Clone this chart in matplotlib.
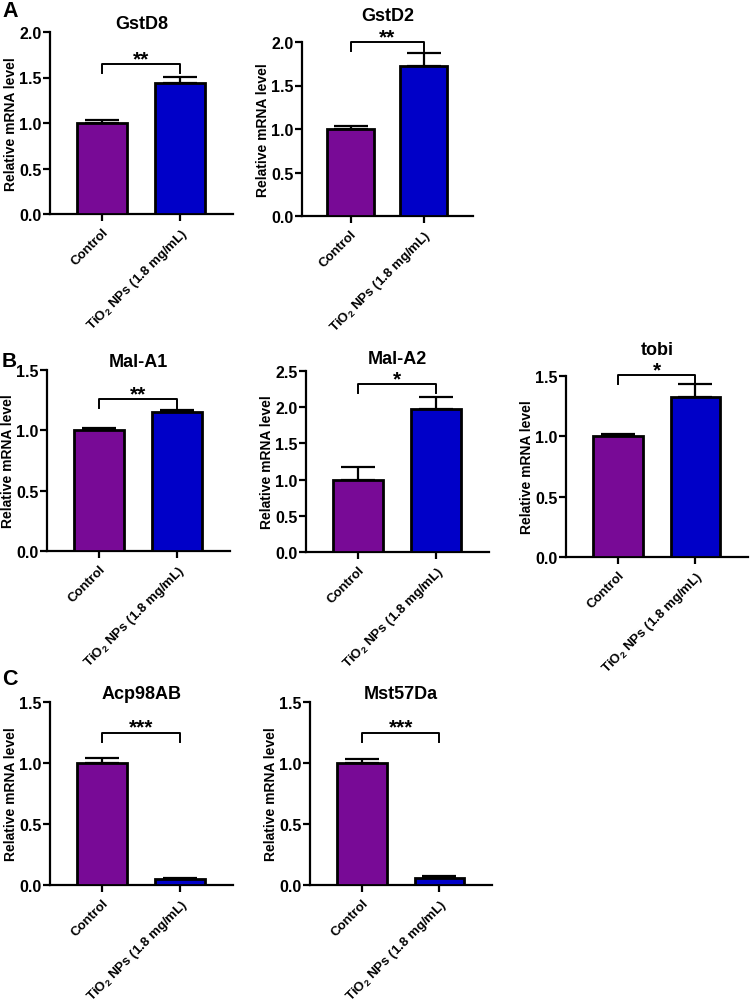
import numpy as np
import matplotlib
matplotlib.use("Agg")
import matplotlib.pyplot as plt

plt.rcParams['font.family'] = ['Liberation Sans', 'DejaVu Sans']
plt.rcParams['font.weight'] = 'bold'
plt.rcParams['mathtext.fontset'] = 'custom'
plt.rcParams['mathtext.rm'] = 'Liberation Sans'
plt.rcParams['mathtext.default'] = 'rm'

# data
genes = ['GstD8', 'GstD2', 'Mal-A1', 'Mal-A2', 'tobi', 'Acp98AB', 'Mst57Da']
groups = ['Control', r'TiO$_2$ NPs (1.8 mg/mL)']
control_mean = [1.0, 1.0, 1.0, 1.0, 1.0, 1.0, 1.0]
control_err = [0.03, 0.03, 0.02, 0.18, 0.02, 0.04, 0.03]
tio2_mean = [1.44, 1.72, 1.15, 1.98, 1.33, 0.05, 0.06]
tio2_err = [0.07, 0.15, 0.02, 0.16, 0.10, 0.01, 0.01]
y_max = [2.0, 2.0, 1.5, 2.5, 1.5, 1.5, 1.5]
stars = ['**', '**', '**', '*', '*', '***', '***']
bracket_level = [1.65, 2.0, 1.26, 2.32, 1.51, 1.25, 1.25]

colors = ['#780A96', '#0000C8']

W, H = 750, 1004
fig = plt.figure(figsize=(W / 100, H / 100), dpi=100)

# axes boxes in pixels: left, right, top, bottom
boxes = [(50, 233, 33, 215), (302, 473, 43, 217),
         (47, 230, 371, 552), (306, 489, 372, 553), (566, 748, 377, 558),
         (50, 233, 703, 886), (310, 492, 703, 886)]
title_pad = [3, 16, 1, 6, 16, 2, 2]

lw = 1.6
for i, g in enumerate(genes):
    l, r, t, b = boxes[i]
    ax = fig.add_axes([l / W, 1 - b / H, (r - l) / W, (b - t) / H])
    x = np.arange(2)
    means = [control_mean[i], tio2_mean[i]]
    errs = [control_err[i], tio2_err[i]]
    ax.bar(x, means, width=0.64, color=colors, edgecolor='black', linewidth=2, zorder=3)
    ax.errorbar(x, means, yerr=[[0, 0], errs], fmt='none', ecolor='black',
                elinewidth=lw, capsize=12, capthick=lw, zorder=2)
    ax.set_xlim(-0.67, 1.68)
    ax.set_ylim(0, y_max[i])
    yt = np.arange(0, y_max[i] + 0.01, 0.5)
    ax.set_yticks(yt)
    ax.set_yticklabels([f'{v:.1f}' for v in yt], fontsize=11.5, fontweight='bold')
    ax.set_xticks(x)
    ax.set_xticklabels(groups, rotation=45, ha='right', rotation_mode='anchor',
                       fontsize=9.5, fontweight='bold')
    ax.tick_params(width=lw, length=5, direction='out', pad=1)
    ax.tick_params(axis='x', pad=3)
    ax.spines['top'].set_visible(False)
    ax.spines['right'].set_visible(False)
    ax.spines['left'].set_linewidth(lw)
    ax.spines['bottom'].set_linewidth(lw)
    ax.set_ylabel('Relative mRNA level', fontsize=10, fontweight='bold')
    ax.yaxis.set_label_coords(-32 / (r - l), 0.5)
    ax.set_title(g, fontsize=13, fontweight='bold', pad=title_pad[i])

    # significance bracket
    h = bracket_level[i]
    d = 0.05 * y_max[i]
    ax.plot([0, 0, 1, 1], [h - d, h, h, h - d], color='black', lw=1.4,
            clip_on=False, zorder=4)
    ax.annotate(stars[i], xy=(0.5, h), xytext=(0, -3), textcoords='offset points',
                ha='center', va='bottom', fontsize=15, fontweight='bold',
                annotation_clip=False)

fig.text(2 / W, 1 - 1 / H, 'A', fontsize=15.5, fontweight='bold', va='top', ha='left')
fig.text(2 / W, 1 - 352 / H, 'B', fontsize=15, fontweight='bold', va='top', ha='left')
fig.text(2 / W, 1 - 669 / H, 'C', fontsize=15.5, fontweight='bold', va='top', ha='left')

fig.savefig('out.png', dpi=100)
